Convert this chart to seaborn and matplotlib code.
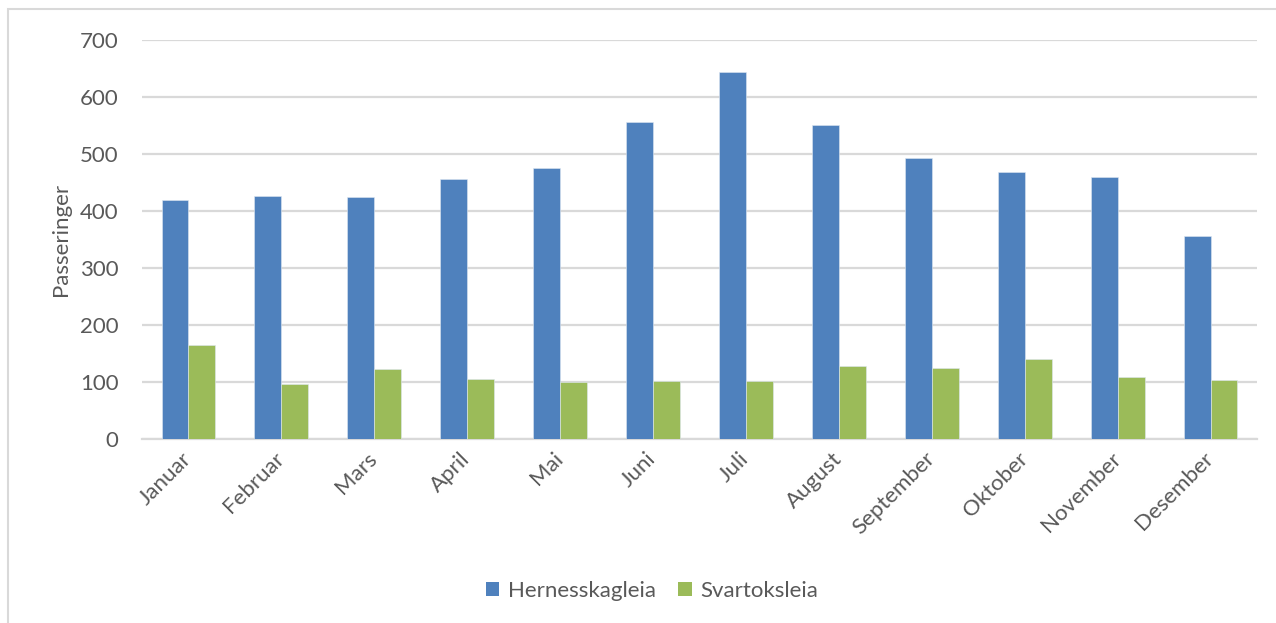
import matplotlib
matplotlib.use("Agg")
import matplotlib.pyplot as plt
import seaborn as sns
import pandas as pd
from matplotlib.patches import Rectangle, Patch

# Monthly passages per fairway
months = ["Januar", "Februar", "Mars", "April", "Mai", "Juni", "Juli",
          "August", "September", "Oktober", "November", "Desember"]
hernesskagleia = [419, 427, 424, 456, 476, 557, 643, 551, 493, 468, 459, 356]
svartoksleia = [165, 96, 122, 106, 100, 101, 102, 128, 125, 140, 109, 104]
series_names = ["Hernesskagleia", "Svartoksleia"]
series_colors = ["#4F81BD", "#9BBB59"]
y_ticks = [0, 100, 200, 300, 400, 500, 600, 700]

df = pd.DataFrame({
    "Måned": months * 2,
    "Passeringer": hernesskagleia + svartoksleia,
    "Led": [series_names[0]] * len(months) + [series_names[1]] * len(months),
})

sns.set_theme(style="white")
plt.rcParams["font.family"] = ["Lato", "DejaVu Sans"]
text_color = "#595959"
grid_color = "#d9d9d9"
fs = 16

W, H = 1276, 623
fig = plt.figure(figsize=(W / 100, H / 100), dpi=100)
ax = fig.add_axes([142 / W, 1 - 439 / H, (1257 - 142) / W, (439 - 40) / H])

# Outer chart frame
fig.patches.append(Rectangle((8 / W, -0.1), 1.2, 1 - 9 / H + 0.1,
                             transform=fig.transFigure, fill=False,
                             edgecolor=grid_color, linewidth=1.5, zorder=0))

sns.barplot(data=df, x="Måned", y="Passeringer", hue="Led",
            hue_order=series_names, palette=series_colors,
            width=0.58, saturation=1, edgecolor="#dfe8f2", linewidth=0.4,
            ax=ax, legend=False, zorder=3)

ax.set_ylim(0, 700)
ax.set_yticks(y_ticks)
ax.set_yticklabels([str(v) for v in y_ticks])
ax.yaxis.grid(True, color=grid_color, linewidth=1.6, zorder=0)
ax.set_axisbelow(True)
for side in ["left", "right", "top"]:
    ax.spines[side].set_visible(False)
ax.spines["bottom"].set_color(grid_color)
ax.spines["bottom"].set_linewidth(1.6)

ax.tick_params(axis="y", length=0, pad=17, labelsize=fs, labelcolor=text_color)
ax.tick_params(axis="x", length=0, pad=12, labelsize=fs, labelcolor=text_color)
for lbl in ax.get_xticklabels():
    lbl.set_rotation(45)
    lbl.set_ha("right")
    lbl.set_va("center")
    lbl.set_rotation_mode("anchor")

ax.set_xlabel("")
ax.set_ylabel("Passeringer", fontsize=fs, color=text_color, labelpad=6)

handles = [Patch(facecolor=c, edgecolor="none") for c in series_colors]
fig.legend(handles, series_names, loc="center",
           bbox_to_anchor=(652 / W, 1 - 591 / H),
           ncol=2, frameon=False, fontsize=fs, labelcolor=text_color,
           handlelength=0.6, handleheight=0.6, handletextpad=0.4, columnspacing=1.0)

fig.savefig("out.png", dpi=100)
